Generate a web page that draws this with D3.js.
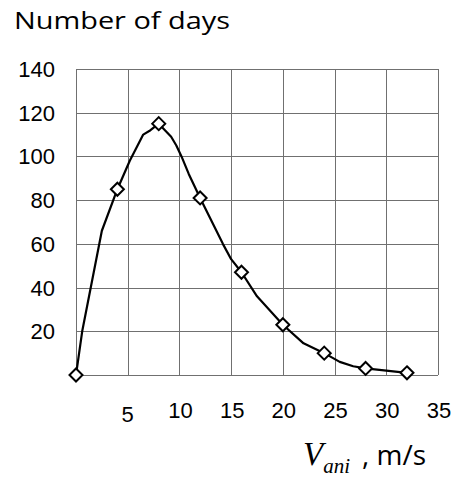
<!DOCTYPE html>
<html>
<head>
<meta charset="utf-8">
<script src="https://cdn.jsdelivr.net/npm/d3@7"></script>
<style>
  html, body { margin: 0; padding: 0; background: #fff; }
  svg { display: block; }
</style>
</head>
<body>
<svg id="chart" width="454" height="477"></svg>
<script>
// ---- data ----
const titleText = "Number of days";
const xTicks = [5, 10, 15, 20, 25, 30, 35];
const yTicks = [20, 40, 60, 80, 100, 120, 140];
const markerX = [0, 4, 8, 12, 16, 20, 24, 28, 32];
const markerY = [0, 85, 115, 81, 47, 23, 10, 3, 1];
const curveX = [0, 0.6, 2.5, 4, 5.2, 6.5, 7.2, 8, 9.2, 9.7, 10.2, 10.9, 12, 14.2, 15, 16, 17.5, 20, 22, 24, 25.5, 26.8, 28, 32];
const curveY = [0, 20, 66, 85, 98, 110, 112, 115, 109, 105, 100, 92, 81, 60, 53, 47, 36, 23, 14.5, 10, 6, 4, 3, 1];

// ---- layout ----
const svg = d3.select("#chart");
const x = d3.scaleLinear().domain([0, 35]).range([76, 438]);
const y = d3.scaleLinear().domain([0, 140]).range([375, 69]);
const gridColor = "#707070";

// grid: vertical lines
svg.append("g")
  .selectAll("line")
  .data([0].concat(xTicks))
  .join("line")
  .attr("x1", d => Math.round(x(d)) + 0.5)
  .attr("x2", d => Math.round(x(d)) + 0.5)
  .attr("y1", y(140))
  .attr("y2", y(0))
  .attr("stroke", gridColor)
  .attr("stroke-width", 1);

// grid: horizontal lines
svg.append("g")
  .selectAll("line")
  .data([0].concat(yTicks))
  .join("line")
  .attr("x1", x(0))
  .attr("x2", x(35))
  .attr("y1", d => Math.round(y(d)) + 0.5)
  .attr("y2", d => Math.round(y(d)) + 0.5)
  .attr("stroke", gridColor)
  .attr("stroke-width", 1);

// y tick labels
svg.append("g")
  .selectAll("text")
  .data(yTicks)
  .join("text")
  .attr("x", 55)
  .attr("y", d => y(d) + 8)
  .attr("text-anchor", "end")
  .attr("font-family", "'Liberation Sans', Arial, sans-serif")
  .attr("font-size", 22)
  .attr("fill", "#000")
  .text(d => d);

// x tick labels
svg.append("g")
  .selectAll("text")
  .data(xTicks)
  .join("text")
  .attr("x", d => x(d) + (d === 5 ? 0 : 1))
  .attr("y", d => d === 5 ? 422 : 418)
  .attr("text-anchor", "middle")
  .attr("font-family", "'Liberation Sans', Arial, sans-serif")
  .attr("font-size", 22)
  .attr("fill", "#000")
  .text(d => d);

// curve
const pts = curveX.map((v, i) => [v, curveY[i]]);
svg.append("path")
  .datum(pts)
  .attr("d", d3.line().x(d => x(d[0])).y(d => y(d[1])).curve(d3.curveLinear))
  .attr("fill", "none")
  .attr("stroke", "#000")
  .attr("stroke-width", 2.2)
  .attr("stroke-linejoin", "round");

// markers (diamonds)
const mk = markerX.map((v, i) => [v, markerY[i]]);
svg.append("g")
  .selectAll("path")
  .data(mk)
  .join("path")
  .attr("transform", d => `translate(${x(d[0])},${y(d[1])})`)
  .attr("d", "M0,-6.5L6.5,0L0,6.5L-6.5,0Z")
  .attr("fill", "#fff")
  .attr("stroke", "#000")
  .attr("stroke-width", 2);

// title
svg.append("text")
  .attr("x", 14)
  .attr("y", 29)
  .attr("font-family", "'Open Sans', 'Noto Sans', sans-serif")
  .attr("font-size", 24)
  .attr("textLength", 216)
  .attr("lengthAdjust", "spacingAndGlyphs")
  .attr("fill", "#000")
  .text(titleText);

// x-axis label: V_ani , m/s
const xl = svg.append("text")
  .attr("x", 303)
  .attr("y", 465)
  .attr("fill", "#000");
xl.append("tspan")
  .attr("font-family", "'Liberation Serif', 'Times New Roman', serif")
  .attr("font-style", "italic")
  .attr("font-size", 33)
  .text("V");
xl.append("tspan")
  .attr("font-family", "'Liberation Serif', 'Times New Roman', serif")
  .attr("font-style", "italic")
  .attr("font-size", 21)
  .attr("dy", 8)
  .text("ani");
svg.append("text")
  .attr("x", 362)
  .attr("y", 465)
  .attr("font-family", "'Open Sans', 'Noto Sans', sans-serif")
  .attr("font-size", 28)
  .attr("fill", "#000")
  .text(", m/s");
</script>
</body>
</html>
